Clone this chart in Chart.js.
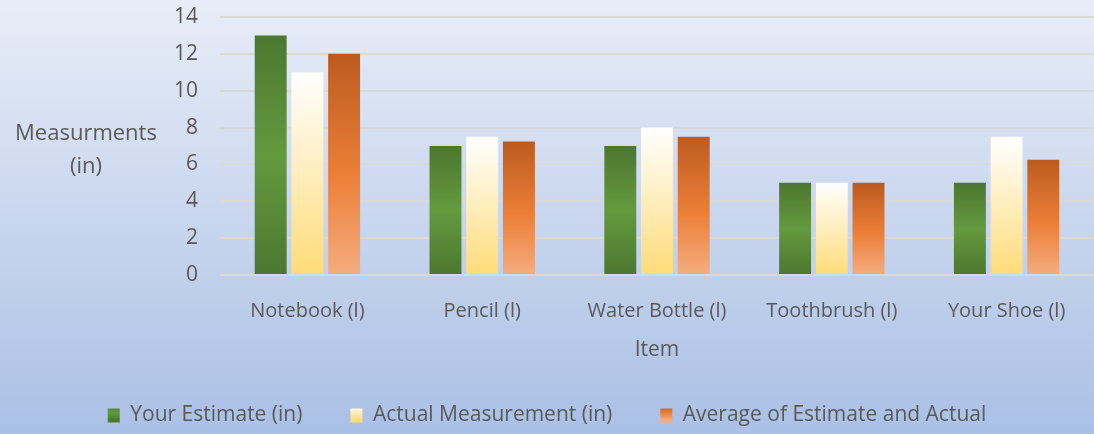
<!DOCTYPE html>
<html>
<head>
<meta charset="utf-8">
<script src="https://cdn.jsdelivr.net/npm/chart.js@4"></script>
<style>
  html, body { margin: 0; padding: 0; }
  #wrap { width: 1094px; height: 434px; }
</style>
</head>
<body>
<div id="wrap"><canvas id="grafico"></canvas></div>
<script>
// dados
const itens = ['Notebook (l)', 'Pencil (l)', 'Water Bottle (l)', 'Toothbrush (l)', 'Your Shoe (l)'];
const estimativa = [13, 7, 7, 5, 5];
const medida = [11, 7.5, 8, 5, 7.5];
const media = [12, 7.25, 7.5, 5, 6.25];
const nomesSeries = ['Your Estimate (in)', 'Actual Measurement (in)', 'Average of Estimate and Actual'];
const tituloY = ['Measurments', '(in)'];
const tituloX = 'Item';

const corTexto = '#595959';
const fonte = "'Open Sans', sans-serif";

// cores (paradas do degradê) de cada série
const paradasVerde = [[0, '#4c7730'], [0.5, '#649a3e'], [1, '#4c7730']];
const paradasBranco = [[0, '#ffffff'], [1, '#ffdc78']];
const paradasLaranja = [[0, '#bc5b1f'], [0.55, '#ec7f38'], [1, '#f4ad80']];
const todasParadas = [paradasVerde, paradasBranco, paradasLaranja];

function criaGradiente(ctx, paradas, topo, base) {
    const g = ctx.createLinearGradient(0, topo, 0, base);
    paradas.forEach(([o, c]) => g.addColorStop(o, c));
    return g;
}

// gradiente vertical dentro de cada barra
function gradienteBarra(paradas) {
    return (context) => {
        const chart = context.chart;
        if (!chart.chartArea || context.type !== 'data') return paradas[1][1];
        const y = chart.scales.y;
        return criaGradiente(chart.ctx, paradas, y.getPixelForValue(context.raw), y.getPixelForValue(0));
    };
}

// fundo azul em degradê
const fundo = {
    id: 'fundo',
    beforeDraw(chart) {
        const { ctx, width, height } = chart;
        const g = ctx.createLinearGradient(0, 0, 0, height);
        g.addColorStop(0, '#e8edf7');
        g.addColorStop(1, '#aac0e5');
        ctx.save();
        ctx.fillStyle = g;
        ctx.fillRect(0, 0, width, height);
        ctx.restore();
    }
};

// título do eixo y na horizontal, em duas linhas
const tituloEixoY = {
    id: 'tituloEixoY',
    afterDraw(chart) {
        const ctx = chart.ctx;
        ctx.save();
        ctx.font = "22px 'Open Sans', sans-serif";
        ctx.fillStyle = corTexto;
        ctx.textAlign = 'center';
        ctx.textBaseline = 'middle';
        ctx.fillText(tituloY[0], 86, 134);
        ctx.fillText(tituloY[1], 86, 167);
        ctx.restore();
    }
};

const ctx = document.getElementById('grafico').getContext('2d');
new Chart(ctx, {
    type: 'bar',
    data: {
        labels: itens,
        datasets: [
            { label: nomesSeries[0], data: estimativa, backgroundColor: gradienteBarra(paradasVerde) },
            { label: nomesSeries[1], data: medida, backgroundColor: gradienteBarra(paradasBranco) },
            { label: nomesSeries[2], data: media, backgroundColor: gradienteBarra(paradasLaranja) }
        ]
    },
    options: {
        responsive: true, maintainAspectRatio: false,
        animation: false,
        categoryPercentage: 0.63,
        barPercentage: 0.87,
        layout: { padding: { top: 17, right: 0, bottom: -2, left: 0 } },
        plugins: {
            legend: {
                position: 'bottom',
                labels: {
                    boxWidth: 12, boxHeight: 14, padding: 48,
                    color: corTexto,
                    font: { family: fonte, size: 21 },
                    generateLabels(chart) {
                        const itensLegenda = Chart.defaults.plugins.legend.labels.generateLabels(chart);
                        itensLegenda.forEach((it, i) => {
                            it.fillStyle = criaGradiente(chart.ctx, todasParadas[i], 405, 420);
                            it.lineWidth = 0;
                        });
                        return itensLegenda;
                    }
                }
            },
            tooltip: { enabled: false }
        },
        scales: {
            x: {
                afterFit(scale) { scale.height = 82; },
                grid: { display: false },
                border: { display: false },
                ticks: { color: corTexto, font: { family: fonte, size: 20 }, padding: 16 },
                title: {
                    display: true, text: tituloX, color: corTexto,
                    font: { family: fonte, size: 21 }, padding: { top: 0, bottom: -6 }
                }
            },
            y: {
                min: 0, max: 14,
                afterFit(scale) { scale.width = 220; },
                grid: { color: '#d9d9d9', lineWidth: 2, drawTicks: true, tickLength: 22, tickColor: 'rgba(0,0,0,0)' },
                border: { display: false },
                ticks: { stepSize: 2, color: corTexto, font: { family: fonte, size: 21 }, padding: 0 }
            }
        }
    },
    plugins: [fundo, tituloEixoY]
});
</script>
</body>
</html>
